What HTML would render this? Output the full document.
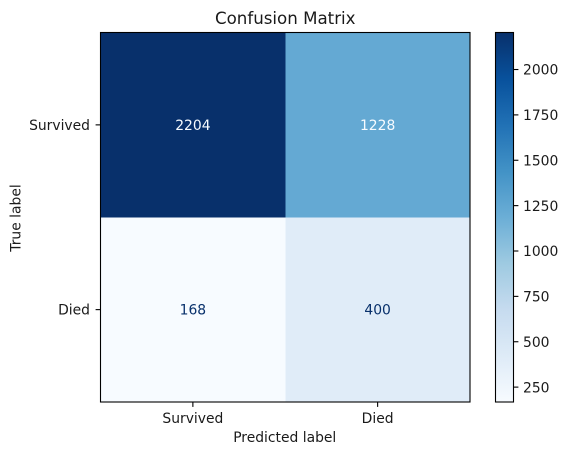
<!DOCTYPE html>
<html>
<head>
<meta charset="utf-8">
<style>
html,body{margin:0;padding:0;background:#fff;width:568px;height:455px;overflow:hidden}
svg{display:block}
text{font-family:"DejaVu Sans","Liberation Sans",sans-serif;font-size:13.89px;fill:#1a1a1a}
</style>
</head>
<body>
<svg id="chart" width="568" height="455" viewBox="0 0 568 455" xmlns="http://www.w3.org/2000/svg"></svg>
<script>
const categories = ["Survived", "Died"];
const matrixValues = [[2204, 1228], [168, 400]];
const colorbarTicks = [250, 500, 750, 1000, 1250, 1500, 1750, 2000];
const blues = ["#f7fbff", "#deebf7", "#c6dbef", "#9ecae1", "#6baed6", "#4292c6", "#2171b5", "#08519c", "#08306b"];

const NS = "http://www.w3.org/2000/svg";
const svg = document.getElementById("chart");
const plot = { left: 100.5, right: 470, top: 32.5, bottom: 402 };
const bar = { left: 495.5, right: 513.5, top: 32.5, bottom: 402 };
const allValues = matrixValues.flat();
const vmin = Math.min(...allValues);
const vmax = Math.max(...allValues);

function make(tag, attrs, text) {
  const el = document.createElementNS(NS, tag);
  for (const k in attrs) el.setAttribute(k, attrs[k]);
  if (text !== undefined) el.textContent = text;
  svg.appendChild(el);
  return el;
}
function hex(c) {
  return [1, 3, 5].map(i => parseInt(c.substr(i, 2), 16));
}
function colorFor(t) {
  const p = Math.max(0, Math.min(1, t)) * (blues.length - 1);
  const i = Math.min(Math.floor(p), blues.length - 2);
  const a = hex(blues[i]), b = hex(blues[i + 1]);
  const f = p - i;
  return "rgb(" + a.map((v, j) => Math.round(v + (b[j] - v) * f)).join(",") + ")";
}
function norm(v) { return (v - vmin) / (vmax - vmin); }
function xCell(i) { return plot.left + (plot.right - plot.left) * i / categories.length; }
function yCell(i) { return plot.top + (plot.bottom - plot.top) * i / categories.length; }
function yBar(v) { return bar.bottom - norm(v) * (bar.bottom - bar.top); }
function slug(s) { return s.toLowerCase(); }

// Heatmap cells
matrixValues.forEach((row, r) => {
  row.forEach((v, c) => {
    const cell = make("rect", {
      x: xCell(c), y: yCell(r),
      width: xCell(c + 1) - xCell(c), height: yCell(r + 1) - yCell(r),
      fill: colorFor(norm(v)), "shape-rendering": "crispEdges"
    });
    
    
  });
});

// Cell value labels
matrixValues.forEach((row, r) => {
  row.forEach((v, c) => {
    const label = make("text", {
      x: (xCell(c) + xCell(c + 1)) / 2, y: (yCell(r) + yCell(r + 1)) / 2 + 5,
      "text-anchor": "middle"
    }, String(v));
    label.style.fill = norm(v) > 0.5 ? "#f7fbff" : "#08306b";
    
    
  });
});

// Plot frame
const frame = make("rect", {
  x: plot.left, y: plot.top, width: plot.right - plot.left, height: plot.bottom - plot.top,
  fill: "none", stroke: "#000", "stroke-width": 1.1
});



// Axis ticks and labels
categories.forEach((name, i) => {
  const x = (xCell(i) + xCell(i + 1)) / 2;
  const y = (yCell(i) + yCell(i + 1)) / 2;

  const xt = make("line", { x1: x, x2: x, y1: plot.bottom, y2: plot.bottom + 4.9, stroke: "#000", "stroke-width": 1.1 });
  
  

  const xl = make("text", { x: x, y: plot.bottom + 21, "text-anchor": "middle" }, name);
  
  

  const yt = make("line", { x1: plot.left - 4.9, x2: plot.left, y1: y, y2: y, stroke: "#000", "stroke-width": 1.1 });
  
  

  const yl = make("text", { x: plot.left - 10.5, y: y + 5, "text-anchor": "end" }, name);
  
  
});

// Titles
const title = make("text", { x: (plot.left + plot.right) / 2, y: 24, "text-anchor": "middle" }, "Confusion Matrix");
title.style.fontSize = "16.67px";



const xTitle = make("text", { x: (plot.left + plot.right) / 2 - 0.5, y: 442, "text-anchor": "middle" }, "Predicted label");



const yTitle = make("text", { x: 20.5, y: 218, "text-anchor": "middle", transform: "rotate(-90 20.5 218)" }, "True label");



// Colorbar
const defs = make("defs", {});
const grad = document.createElementNS(NS, "linearGradient");
grad.setAttribute("id", "blues-gradient");
grad.setAttribute("x1", "0");
grad.setAttribute("x2", "0");
grad.setAttribute("y1", "1");
grad.setAttribute("y2", "0");
blues.forEach((c, i) => {
  const s = document.createElementNS(NS, "stop");
  s.setAttribute("offset", i / (blues.length - 1));
  s.setAttribute("stop-color", c);
  grad.appendChild(s);
});
defs.appendChild(grad);

const cbar = make("rect", {
  x: bar.left, y: bar.top, width: bar.right - bar.left, height: bar.bottom - bar.top,
  fill: "url(#blues-gradient)", stroke: "#000", "stroke-width": 1.1
});



colorbarTicks.forEach(v => {
  const y = yBar(v);
  const t = make("line", { x1: bar.right, x2: bar.right + 4.9, y1: y, y2: y, stroke: "#000", "stroke-width": 1.1 });
  
  

  const l = make("text", { x: bar.right + 9.5, y: y + 5.2 }, String(v));
  
  
});
</script>
</body>
</html>
